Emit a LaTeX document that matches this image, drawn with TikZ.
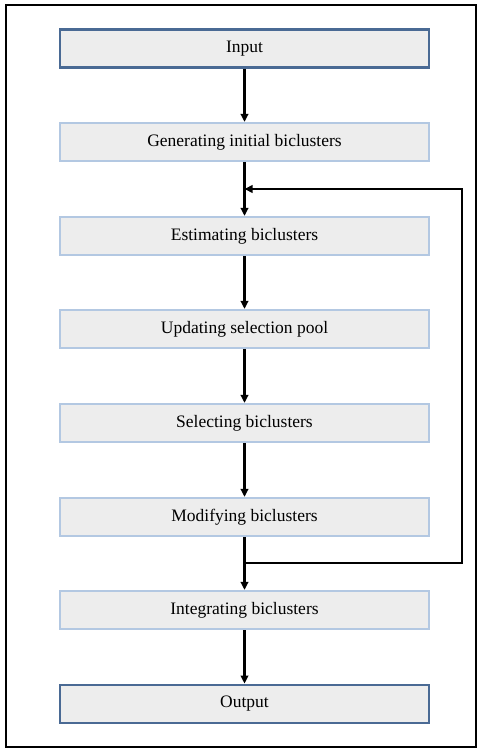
\documentclass[tikz,border=0pt]{standalone}
\usepackage{fontspec}
\setmainfont{Liberation Serif}
\usetikzlibrary{arrows.meta}
\definecolor{darkb}{HTML}{4A6A94}
\definecolor{lightb}{HTML}{B3C8E2}
\definecolor{boxfill}{HTML}{EDEDED}
\begin{document}
\begin{tikzpicture}[x=1pt,y=-1pt,
  stepbox/.style={draw=lightb,line width=2.2pt,fill=boxfill,minimum width=369pt,minimum height=38pt,inner sep=0pt,font=\fontsize{17.5}{20}\selectfont},
  endbox/.style={stepbox,draw=darkb,line width=2.8pt},
  conn/.style={line width=2.6pt,-{Triangle[length=8pt,width=7.5pt]}},
  plain/.style={line width=2.6pt}]
\useasboundingbox (0,0) rectangle (477,749);
\draw[line width=2.6pt] (6,5) rectangle (476,747);
\node[endbox] (in) at (244.5,48.5) {Input};
\node[stepbox] (gen) at (244.5,142) {Generating initial biclusters};
\node[stepbox] (est) at (244.5,236) {Estimating biclusters};
\node[stepbox] (upd) at (244.5,329) {Updating selection pool};
\node[stepbox] (sel) at (244.5,423) {Selecting biclusters};
\node[stepbox] (mod) at (244.5,517) {Modifying biclusters};
\node[stepbox] (int) at (244.5,610) {Integrating biclusters};
\node[endbox] (out) at (244.5,704) {Output};
\coordinate (j1) at (244.5,189);
\coordinate (j2) at (244.5,563);
\coordinate (r1) at (462,189);
\coordinate (r2) at (462,563);
\draw[conn] (in) -- (gen);
\draw[conn] (gen) -- (est);
\draw[conn] (est) -- (upd);
\draw[conn] (upd) -- (sel);
\draw[conn] (sel) -- (mod);
\draw[conn] (mod) -- (int);
\draw[conn] (int) -- (out);
\draw[plain] (j2) -- (r2) -- (r1);
\draw[conn] (r2) -- (r1) -- (j1);
\end{tikzpicture}
\end{document}
